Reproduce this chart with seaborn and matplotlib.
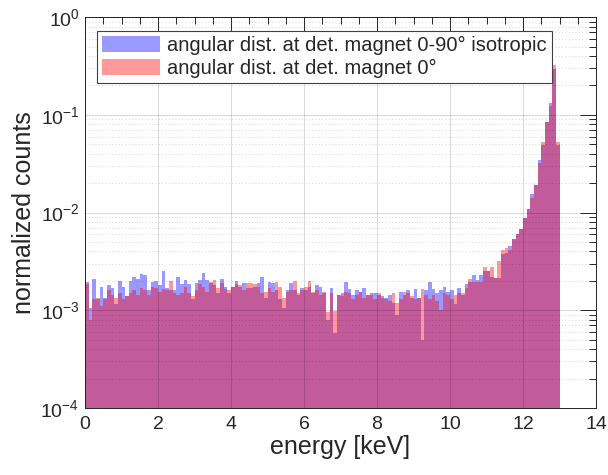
import numpy as np
import pandas as pd
import matplotlib
matplotlib.use("Agg")
import matplotlib.pyplot as plt
import seaborn as sns
from matplotlib.ticker import MultipleLocator, LogLocator, NullFormatter

# energy bins, 0.1 keV wide from 0 to 13 keV
edges = np.round(np.arange(0, 13.05, 0.1), 2)
centers = edges[:-1] + 0.05

# normalized counts per bin, in units of 1e-3
iso = [1.95, 1.05, 2.1, 1.3, 1.75, 1.35, 1.8, 1.7, 1.15, 2.0,
       1.75, 1.4, 2.0, 2.2, 2.1, 2.35, 2.3, 1.6, 1.95, 2.0,
       1.8, 2.5, 1.7, 1.6, 1.6, 2.2, 1.85, 2.05, 1.85, 1.3,
       1.9, 2.05, 2.4, 2.05, 1.9, 1.8, 1.5, 2.1, 1.75, 1.5,
       1.75, 2.0, 1.75, 1.9, 1.7, 1.7, 1.75, 1.9, 2.2, 1.35,
       1.95, 1.9, 1.6, 1.3, 1.05, 1.6, 1.9, 1.6, 1.45, 1.7,
       1.6, 1.75, 1.5, 1.8, 1.75, 1.5, 0.8, 1.7, 0.58, 1.45,
       1.5, 1.95, 1.65, 1.45, 1.6, 1.55, 1.7, 1.45, 1.5, 1.5,
       1.45, 1.4, 1.35, 1.45, 1.2, 0.9, 1.55, 1.45, 1.6, 1.35,
       1.65, 1.35, 0.5, 1.6, 1.95, 1.65, 1.5, 1.6, 1.75, 1.55,
       1.6, 1.15, 1.7, 1.45, 1.87, 1.95, 2.3, 2.05, 2.3, 2.5,
       2.5, 2.2, 2.15, 2.15, 3.8, 3.9, 4.6, 5.4, 6.1, 6.8,
       8.9, 10.8, 15.4, 19.3, 34.6, 49, 84, 131, 295, 49]
zero = [1.85, 0.8, 1.3, 1.35, 1.1, 1.3, 1.6, 1.45, 1.35, 1.5,
        1.3, 1.4, 1.5, 1.6, 1.45, 1.7, 1.6, 1.45, 1.75, 1.7,
        1.55, 1.65, 1.6, 2.0, 1.5, 1.45, 1.5, 1.75, 1.5, 1.4,
        1.6, 1.85, 1.75, 1.55, 1.95, 2.05, 1.7, 1.9, 1.65, 1.6,
        1.75, 1.85, 1.8, 1.6, 1.9, 1.9, 1.85, 1.75, 1.5, 1.55,
        1.7, 1.55, 1.95, 1.75, 1.35, 1.55, 1.6, 2.0, 1.5, 1.6,
        1.75, 2.0, 1.55, 1.6, 1.45, 1.55, 0.96, 1.5, 0.98, 1.45,
        1.4, 1.55, 1.5, 1.3, 1.45, 1.55, 1.35, 1.45, 1.45, 1.3,
        1.5, 1.35, 1.3, 1.25, 1.5, 1.2, 1.3, 1.55, 1.5, 1.4,
        1.3, 1.35, 1.65, 1.45, 1.3, 1.45, 1.25, 1.0, 1.5, 1.45,
        1.3, 1.45, 1.5, 1.5, 1.7, 2.1, 1.95, 1.95, 1.95, 2.8,
        2.5, 2.8, 2.15, 3.2, 4.1, 4.3, 4.1, 5.4, 6.0, 6.8,
        8.9, 10.8, 14.2, 19.3, 32, 53, 84, 124, 320, 53]

labels = ["angular dist. at det. magnet 0-90° isotropic",
          "angular dist. at det. magnet 0°"]

df_iso = pd.DataFrame({"energy": centers, "counts": np.array(iso) * 1e-3})
df_zero = pd.DataFrame({"energy": centers, "counts": np.array(zero) * 1e-3})

sns.set_style("white")
plt.rcParams["font.family"] = ["Liberation Sans", "DejaVu Sans"]
plt.rcParams["mathtext.default"] = "regular"

fig = plt.figure(figsize=(6.08, 4.75), dpi=100)
ax = fig.add_axes([0.1398, 0.141, 0.8405, 0.823])

# isotropic first, 0 deg drawn on top of it
sns.histplot(data=df_iso, x="energy", weights="counts", bins=list(edges), element="step",
             fill=True, color=(0, 0, 1), alpha=0.4, linewidth=0, ax=ax, label=labels[0])
sns.histplot(data=df_zero, x="energy", weights="counts", bins=list(edges), element="step",
             fill=True, color=(1, 0, 0), alpha=0.4, linewidth=0, ax=ax, label=labels[1])

ax.set_yscale("log")
ax.set_xlim(0, 14)
ax.set_ylim(1e-4, 1)
ax.xaxis.set_major_locator(MultipleLocator(2))
ax.xaxis.set_minor_locator(MultipleLocator(0.5))
ax.yaxis.set_major_locator(LogLocator(base=10))
ax.yaxis.set_minor_locator(LogLocator(base=10, subs=np.arange(2, 10)))
ax.yaxis.set_minor_formatter(NullFormatter())

ax.set_axisbelow(False)
ax.grid(True, which="major", color="k", alpha=0.15, linewidth=0.7)
ax.grid(True, which="minor", axis="y", color="k", alpha=0.22, linestyle=(0, (1, 3)), linewidth=0.6)
ax.tick_params(which="both", direction="in", top=True, right=True,
               colors="0.15", labelsize=14, width=0.7)
ax.tick_params(which="major", length=11.5, pad=4)
ax.tick_params(which="minor", length=5)
ax.tick_params(axis="x", which="major", pad=6)
for s in ax.spines.values():
    s.set_color("0.15")
    s.set_linewidth(0.7)

ax.set_xlabel("energy [keV]", fontsize=18, color="0.15", labelpad=1)
ax.set_ylabel("normalized counts", fontsize=18, color="0.15", labelpad=3)

leg = ax.legend(loc="upper left", bbox_to_anchor=(0.0235, 0.965), borderaxespad=0,
                fontsize=14.5, fancybox=False, edgecolor="0.25", framealpha=1,
                handlelength=2.9, handleheight=0.8, borderpad=0.25,
                labelspacing=0.2, handletextpad=0.35)
leg.get_frame().set_linewidth(0.8)

fig.savefig("out.png", dpi=100)
